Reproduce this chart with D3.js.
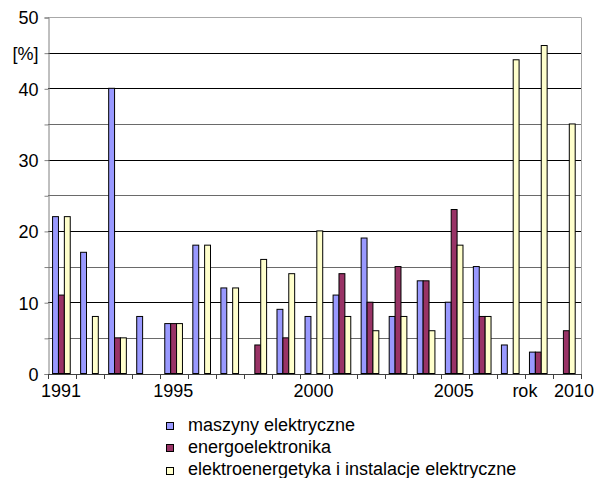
<!DOCTYPE html>
<html><head><meta charset="utf-8">
<script src="https://cdn.jsdelivr.net/npm/d3@7"></script>
<style>
html,body{margin:0;padding:0;background:#fff;}
svg{display:block;font-family:"Liberation Sans",Arial,sans-serif;}
</style></head>
<body>
<script>
const categories = ["1991","1992","1993","1994","1995","1996","1997","1998","1999","2000","2001","2002","2003","2004","2005","2006","2007","2008","2010"];
const seriesNames = ["maszyny elektryczne","energoelektronika","elektroenergetyka i instalacje elektryczne"];
const maszyny   = [22,17,40,8,7,18,12,0,9,8,11,19,8,13,10,15,4,3,0];
const energo    = [11,0,5,0,7,0,0,4,5,0,14,10,15,13,23,8,0,3,6];
const elektro   = [22,8,5,0,7,18,12,16,14,20,8,6,8,6,18,8,44,46,35];
const shownLabels = ["1991","1995","2000","2005","2010"];
const yTicks = [0,5,10,15,20,25,30,35,40,45,50];
const yLabels = [0,10,20,30,40,50];
const colors = ["#9999FF","#993366","#FFFFCC"];

const W = 595, H = 478;
const mLeft = 48, mRight = 581, mTop = 17, mBottom = 373.5;
const svg = d3.select("body").append("svg").attr("width",W).attr("height",H);

const x = d3.scaleBand().domain(categories).range([mLeft,mRight]).padding(0);
const xs = d3.scaleBand().domain(seriesNames).range([0,x.bandwidth()]).paddingInner(0).paddingOuter(0.88).align(0.44);
const y = d3.scaleLinear().domain([0,50]).range([mBottom,mTop]);

// gridlines
svg.append("g").selectAll("line").data(yTicks.filter(v=>v>0)).join("line")
  .attr("x1",mLeft).attr("x2",mRight)
  .attr("y1",d=>Math.round(y(d))+0.5).attr("y2",d=>Math.round(y(d))+0.5)
  .attr("stroke",d=> d===50 ? "#a8a8a8" : (d%10===0||d===45 ? "#000" : "#6a6a6a"))
  .attr("stroke-width",1);
// right border
svg.append("line").attr("x1",mRight+0.5).attr("x2",mRight+0.5).attr("y1",Math.round(y(50))+0.5).attr("y2",Math.round(y(0))+0.5)
  .attr("stroke","#a8a8a8");

// bars
const series = [maszyny, energo, elektro];
const rows = [];
series.forEach((vals,si)=>vals.forEach((v,ci)=>{ if(v>0) rows.push({s:seriesNames[si],si,c:categories[ci],v}); }));
svg.append("g").selectAll("rect").data(rows).join("rect")
  .attr("x",d=>x(d.c)+xs(d.s))
  .attr("width",xs.bandwidth())
  .attr("y",d=>y(d.v))
  .attr("height",d=>y(0)-y(d.v))
  .attr("fill",d=>colors[d.si])
  .attr("stroke","#000").attr("stroke-width",1);

// y axis
const yAxis = d3.axisLeft(y).tickValues(yTicks).tickSize(4).tickPadding(6)
  .tickFormat(d=> yLabels.includes(d) ? d : (d===45 ? "[%]" : ""));
const gy = svg.append("g").attr("transform",`translate(${mLeft+0.5},0.5)`).call(yAxis);
gy.select(".domain").attr("stroke","#808080");
gy.selectAll(".tick line").attr("stroke","#808080");
gy.selectAll(".tick text").attr("font-size",18).attr("fill","#000")
  .attr("font-family","'Liberation Sans',Arial,sans-serif").attr("dy","0.36em");

// x axis line and ticks at category boundaries
const bounds = categories.map(c=>x(c)).concat([mRight]);
svg.append("line").attr("x1",mLeft).attr("x2",mRight+1).attr("y1",Math.round(y(0))+0.5).attr("y2",Math.round(y(0))+0.5)
  .attr("stroke","#404040");
svg.append("g").selectAll("line").data(bounds).join("line")
  .attr("x1",d=>Math.round(d)+0.5).attr("x2",d=>Math.round(d)+0.5)
  .attr("y1",Math.round(y(0))+0.5).attr("y2",Math.round(y(0))+5)
  .attr("stroke","#404040");

svg.append("g").selectAll("text").data(shownLabels).join("text")
  .attr("x",(d,i)=> x(d)+x.bandwidth()/2 + (i===shownLabels.length-1 ? 7 : -1))
  .attr("y",397).attr("text-anchor","middle").attr("font-size",18).text(d=>d);
svg.append("text").attr("x",x("2008")).attr("y",397).attr("text-anchor","middle")
  .attr("font-size",18).text("rok");

// legend
const lg = svg.append("g");
seriesNames.forEach((n,i)=>{
  const cy = 425.5 + i*22.3;
  lg.append("rect").attr("x",166.5).attr("y",Math.round(cy-3.5)+0.5).attr("width",7).attr("height",7)
    .attr("fill",colors[i]).attr("stroke","#000").attr("stroke-width",1);
  lg.append("text").attr("x",188).attr("y",cy+5).attr("font-size",18).text(n);
});
</script>
</body></html>
